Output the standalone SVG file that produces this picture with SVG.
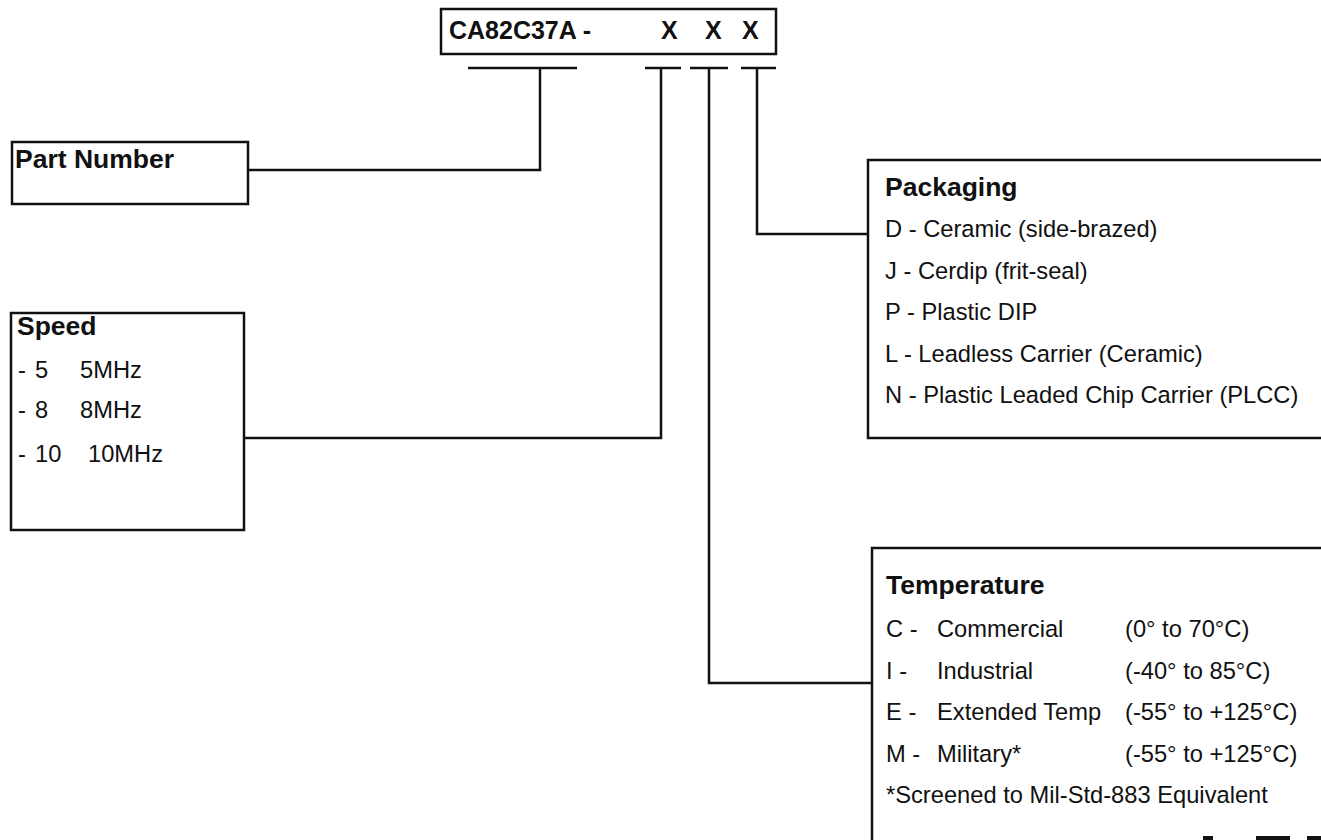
<svg xmlns="http://www.w3.org/2000/svg" width="1321" height="840" viewBox="0 0 1321 840">
<style>
.box{fill:#fff;stroke:#111;stroke-width:2.5}
.ln{fill:none;stroke:#111;stroke-width:2.5}
text{font-family:"Liberation Sans",Arial,Helvetica,sans-serif;fill:#111}
.b{font-weight:bold;font-size:26.5px}
.t{font-weight:bold;font-size:25px}
.r{font-size:23.7px}
</style>
<rect width="1321" height="840" fill="#fff"/>
<g id="connectors">
<path class="ln" d="M468 68H577M645 68H681M690 68H728M741 68H776"/>
<path class="ln" d="M540 68V170H248"/>
<path class="ln" d="M661 68V438H244"/>
<path class="ln" d="M709 68V683H872"/>
<path class="ln" d="M757 68V234H868"/>
</g>
<g id="title">
<rect class="box" x="441" y="9" width="335" height="45"/>
<text class="t" x="449" y="39">CA82C37A -</text>
<text class="t" x="661" y="39">X</text>
<text class="t" x="705" y="39">X</text>
<text class="t" x="742" y="39">X</text>
</g>
<g id="part-number">
<rect class="box" x="12" y="142" width="236" height="62"/>
<text class="b" x="15" y="168">Part Number</text>
</g>
<g id="speed">
<rect class="box" x="11" y="313" width="233" height="217"/>
<text class="b" x="17" y="335">Speed</text>
<text class="r" x="18" y="378">-</text><text class="r" x="35" y="378">5</text><text class="r" x="80" y="378">5MHz</text>
<text class="r" x="18" y="418">-</text><text class="r" x="35" y="418">8</text><text class="r" x="80" y="418">8MHz</text>
<text class="r" x="18" y="462">-</text><text class="r" x="35" y="462">10</text><text class="r" x="88" y="462">10MHz</text>
</g>
<g id="packaging">
<rect class="box" x="868" y="160" width="480" height="278"/>
<text class="b" x="885" y="196">Packaging</text>
<text class="r" x="885" y="237">D - Ceramic (side-brazed)</text>
<text class="r" x="885" y="279">J - Cerdip (frit-seal)</text>
<text class="r" x="885" y="320">P - Plastic DIP</text>
<text class="r" x="885" y="362">L - Leadless Carrier (Ceramic)</text>
<text class="r" x="885" y="403">N - Plastic Leaded Chip Carrier (PLCC)</text>
</g>
<g id="temperature">
<rect class="box" x="872" y="548" width="480" height="320"/>
<text class="b" x="886" y="594">Temperature</text>
<text class="r" x="886" y="637">C -</text><text class="r" x="937" y="637">Commercial</text><text class="r" x="1125" y="637">(0° to 70°C)</text>
<text class="r" x="886" y="679">I -</text><text class="r" x="937" y="679">Industrial</text><text class="r" x="1125" y="679">(-40° to 85°C)</text>
<text class="r" x="886" y="720">E -</text><text class="r" x="937" y="720">Extended Temp</text><text class="r" x="1125" y="720">(-55° to +125°C)</text>
<text class="r" x="886" y="762">M -</text><text class="r" x="937" y="762">Military*</text><text class="r" x="1125" y="762">(-55° to +125°C)</text>
<text class="r" x="886" y="803">*Screened to Mil-Std-883 Equivalent</text>
</g>
<g id="marks" fill="#111">
<rect x="1203" y="836" width="10" height="4"/>
<rect x="1256" y="836" width="34" height="4"/>
<rect x="1307" y="836" width="14" height="4"/>
</g>
</svg>
